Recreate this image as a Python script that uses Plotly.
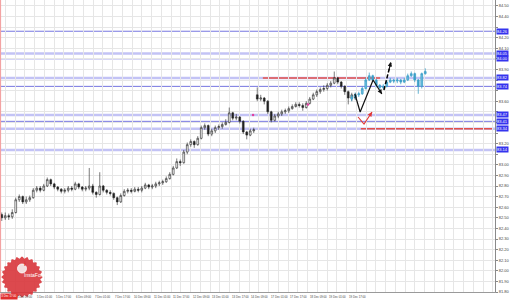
import math
import plotly.graph_objects as go

# ---------------- data ----------------
black_open = [82.53, 82.50, 82.52, 82.51, 82.55, 82.67, 82.70, 82.65, 82.67, 82.69,
              82.76, 82.78, 82.76, 82.80, 82.86, 82.82, 82.79, 82.77, 82.75, 82.76,
              82.78, 82.77, 82.82, 82.79, 82.77, 82.78, 82.80, 82.74, 82.72, 82.80,
              82.76, 82.74, 82.73, 82.69, 82.65, 82.71, 82.75, 82.76, 82.75, 82.77,
              82.76, 82.78, 82.81, 82.79, 82.80, 82.82, 82.83, 82.84, 82.87, 82.91,
              82.97, 83.03, 83.02, 83.12, 83.19, 83.22, 83.19, 83.25, 83.35, 83.37,
              83.29, 83.32, 83.35, 83.36, 83.38, 83.40, 83.49, 83.44, 83.45, 83.41,
              83.31, 83.28, 83.32, 83.66, 83.62, 83.63, 83.60, 83.50, 83.42, 83.46,
              83.48, 83.50, 83.51, 83.53, 83.55, 83.57, 83.56, 83.54, 83.58, 83.62,
              83.66, 83.69, 83.71, 83.72, 83.75, 83.77, 83.82, 83.78, 83.74, 83.69,
              83.63, 83.66]
black_high = [82.55, 82.55, 82.54, 82.58, 82.69, 82.72, 82.71, 82.70, 82.71, 82.78,
              82.80, 82.80, 82.82, 82.88, 82.87, 82.83, 82.80, 82.78, 82.78, 82.80,
              82.80, 82.84, 82.83, 82.80, 82.80, 82.97, 82.82, 82.75, 82.93, 82.81,
              82.77, 82.76, 82.74, 82.70, 82.73, 82.77, 82.78, 82.78, 82.79, 82.79,
              82.80, 82.83, 82.82, 82.82, 82.84, 82.85, 82.86, 82.89, 82.93, 82.99,
              83.06, 83.05, 83.14, 83.21, 83.24, 83.23, 83.27, 83.37, 83.39, 83.38,
              83.34, 83.37, 83.38, 83.40, 83.43, 83.54, 83.50, 83.48, 83.46, 83.42,
              83.32, 83.34, 83.35, 83.73, 83.66, 83.64, 83.61, 83.51, 83.48, 83.50,
              83.52, 83.53, 83.55, 83.57, 83.59, 83.59, 83.58, 83.60, 83.64, 83.68,
              83.71, 83.73, 83.75, 83.77, 83.79, 83.88, 83.83, 83.79, 83.75, 83.70,
              83.68, 83.68]
black_low = [82.47, 82.48, 82.48, 82.49, 82.54, 82.65, 82.63, 82.63, 82.65, 82.68,
             82.74, 82.74, 82.75, 82.79, 82.80, 82.77, 82.75, 82.73, 82.73, 82.74,
             82.75, 82.76, 82.77, 82.75, 82.75, 82.76, 82.72, 82.69, 82.71, 82.74,
             82.72, 82.71, 82.67, 82.62, 82.64, 82.70, 82.73, 82.73, 82.74, 82.74,
             82.74, 82.77, 82.77, 82.77, 82.78, 82.80, 82.81, 82.83, 82.86, 82.90,
             82.96, 82.99, 83.01, 83.10, 83.17, 83.16, 83.18, 83.24, 83.33, 83.27,
             83.27, 83.30, 83.33, 83.34, 83.37, 83.39, 83.42, 83.42, 83.39, 83.29,
             83.24, 83.27, 83.30, 83.60, 83.60, 83.57, 83.48, 83.40, 83.41, 83.44,
             83.46, 83.48, 83.49, 83.52, 83.54, 83.54, 83.51, 83.53, 83.57, 83.61,
             83.64, 83.67, 83.69, 83.70, 83.73, 83.76, 83.76, 83.72, 83.66, 83.57,
             83.60, 83.61]
black_close = [82.50, 82.52, 82.51, 82.55, 82.67, 82.70, 82.65, 82.67, 82.69, 82.76,
               82.78, 82.76, 82.80, 82.86, 82.82, 82.79, 82.77, 82.75, 82.76, 82.78,
               82.77, 82.82, 82.79, 82.77, 82.78, 82.80, 82.74, 82.72, 82.80, 82.76,
               82.74, 82.73, 82.69, 82.65, 82.71, 82.75, 82.76, 82.75, 82.77, 82.76,
               82.78, 82.81, 82.79, 82.80, 82.82, 82.83, 82.84, 82.87, 82.91, 82.97,
               83.03, 83.02, 83.12, 83.19, 83.22, 83.19, 83.25, 83.35, 83.37, 83.29,
               83.32, 83.35, 83.36, 83.38, 83.40, 83.49, 83.44, 83.45, 83.41, 83.31,
               83.28, 83.32, 83.33, 83.62, 83.63, 83.60, 83.50, 83.42, 83.46, 83.48,
               83.50, 83.51, 83.53, 83.55, 83.57, 83.56, 83.54, 83.58, 83.62, 83.66,
               83.69, 83.71, 83.72, 83.75, 83.77, 83.82, 83.78, 83.74, 83.69, 83.63,
               83.66, 83.63]
black_index = list(range(len(black_close)))

cyan_open = [83.62, 83.64, 83.66, 83.67, 83.72, 83.80, 83.84, 83.80, 83.75, 83.73, 83.74,
             83.78, 83.80, 83.79, 83.80, 83.78, 83.80, 83.84, 83.86, 83.80, 83.74, 83.86]
cyan_high = [83.66, 83.68, 83.69, 83.74, 83.82, 83.87, 83.85, 83.81, 83.76, 83.76, 83.80,
             83.82, 83.81, 83.82, 83.81, 83.82, 83.86, 83.88, 83.87, 83.81, 83.87, 83.91]
cyan_low = [83.60, 83.62, 83.64, 83.66, 83.71, 83.79, 83.78, 83.73, 83.71, 83.71, 83.73,
            83.77, 83.77, 83.77, 83.76, 83.77, 83.79, 83.83, 83.78, 83.67, 83.72, 83.85]
cyan_close = [83.64, 83.66, 83.67, 83.72, 83.80, 83.84, 83.80, 83.75, 83.73, 83.74, 83.78,
              83.80, 83.79, 83.80, 83.78, 83.80, 83.84, 83.86, 83.80, 83.74, 83.86, 83.88]
cyan_index = list(range(100, 100 + len(cyan_close)))

blue_thin_levels = [84.26, 84.00, 83.74, 83.41]
blue_thick_levels = [84.05, 83.82, 83.47, 83.34, 83.14]
red_level_prices = [83.82, 83.34]
red_level_start = [74.6, 102.6]
red_level_end = [108.1, 140.1]

price_ticks = ["81.80", "81.90", "82.00", "82.10", "82.20", "82.30", "82.40", "82.50",
               "82.60", "82.70", "82.80", "82.90", "83.00", "83.10", "83.20", "83.30",
               "83.40", "83.50", "83.60", "83.70", "83.80", "83.90", "84.00", "84.10",
               "84.20", "84.30", "84.40", "84.50"]
time_labels = ["4 Dec 09:00", "5 Dec 01:00", "5 Dec 17:00", "6 Dec 09:00", "7 Dec 01:00",
               "7 Dec 17:00", "10 Dec 09:00", "11 Dec 01:00", "11 Dec 17:00", "12 Dec 09:00",
               "13 Dec 01:00", "13 Dec 17:00", "14 Dec 09:00", "17 Dec 01:00", "17 Dec 17:00",
               "18 Dec 09:00", "19 Dec 01:00", "19 Dec 17:00"]
first_time_label = "3 Dec 17:00"

# hand-drawn forecast arrows (bar index, price)
black_path_x = [100.9, 102.4, 106.1, 108.6]
black_path_y = [83.668, 83.498, 83.80, 83.668]
black_dash_x = [109.2, 111.2]
black_dash_y = [83.706, 83.970]
red_path_x = [101.8, 103.5, 105.8]
red_path_y = [83.451, 83.385, 83.498]
marker_x = [71.8, 87.5]
marker_y = [83.47, 83.57]

# ---------------- layout geometry ----------------
W, H = 518, 301
PLOT_W, PLOT_H = 495, 292
BAR_PX = 3.5
PX_PER_UNIT = 106.0
x_lo = -0.5
x_hi = (PLOT_W - BAR_PX / 2) / BAR_PX
y_lo = float(price_ticks[0])
y_hi = y_lo + PLOT_H / PX_PER_UNIT


def px_to_idx(px):
    return (px - BAR_PX / 2) / BAR_PX


def paper_x(px):
    return px / PLOT_W


def paper_y(py):
    return (PLOT_H - py) / PLOT_H


fig = go.Figure()

# levels
for lv in blue_thick_levels:
    fig.add_shape(type="line", xref="paper", x0=0, x1=1, yref="y", y0=lv, y1=lv,
                  line=dict(color="#c3c3f5", width=2.5), layer="below")
for lv in blue_thin_levels:
    fig.add_shape(type="line", xref="paper", x0=0, x1=1, yref="y", y0=lv, y1=lv,
                  line=dict(color="#7676e0", width=1), layer="below")
for p, a, b in zip(red_level_prices, red_level_start, red_level_end):
    fig.add_shape(type="line", xref="x", x0=a, x1=b, yref="y", y0=p, y1=p,
                  line=dict(color="#e4504a", width=1.5), layer="below")

# left red vertical line
fig.add_shape(type="line", xref="paper", x0=0.001, x1=0.001, yref="paper", y0=0, y1=1,
              line=dict(color="#f3a3a3", width=1.2))

fig.add_trace(go.Candlestick(
    x=black_index, open=black_open, high=black_high, low=black_low, close=black_close,
    increasing=dict(line=dict(color="#222222", width=0.6), fillcolor="#ffffff"),
    decreasing=dict(line=dict(color="#222222", width=0.6), fillcolor="#222222"),
    whiskerwidth=0, showlegend=False, hoverinfo="skip"))

fig.add_trace(go.Candlestick(
    x=cyan_index, open=cyan_open, high=cyan_high, low=cyan_low, close=cyan_close,
    increasing=dict(line=dict(color="#3c9fc8", width=0.8), fillcolor="#6cbfe0"),
    decreasing=dict(line=dict(color="#3c9fc8", width=0.8), fillcolor="#3c9fc8"),
    whiskerwidth=0, showlegend=False, hoverinfo="skip"))

fig.add_trace(go.Scatter(x=black_path_x, y=black_path_y, mode="lines",
                         line=dict(color="#111111", width=1.2), showlegend=False, hoverinfo="skip"))
fig.add_trace(go.Scatter(x=black_dash_x, y=black_dash_y, mode="lines",
                         line=dict(color="#000000", width=1.5, dash="4px,2px"),
                         showlegend=False, hoverinfo="skip"))
fig.add_trace(go.Scatter(x=red_path_x, y=red_path_y, mode="lines",
                         line=dict(color="#e03838", width=1.1), showlegend=False, hoverinfo="skip"))
fig.add_trace(go.Scatter(x=marker_x, y=marker_y, mode="markers",
                         marker=dict(color="#e040a0", size=2.5), showlegend=False, hoverinfo="skip"))

# arrowheads
for xs, ys, col in [(black_path_x, black_path_y, "#111111"),
                    (black_dash_x, black_dash_y, "#111111"),
                    (red_path_x, red_path_y, "#e03838")]:
    fig.add_annotation(x=xs[-1], y=ys[-1], ax=xs[-1] - 0.35 * (xs[-1] - xs[-2]),
                       ay=ys[-1] - 0.35 * (ys[-1] - ys[-2]), xref="x", yref="y",
                       axref="x", ayref="y", showarrow=True, arrowhead=2, arrowsize=0.8,
                       arrowwidth=1.1, arrowcolor=col, text="", standoff=0)

# blue level labels on the price axis
all_levels = blue_thin_levels + blue_thick_levels
for lv in all_levels:
    fig.add_annotation(x=1, xref="paper", xanchor="left", xshift=1, y=lv, yref="y",
                       text="%.2f" % lv, showarrow=False, bgcolor="#3434ee",
                       font=dict(color="white", size=4, family="Liberation Sans"), borderpad=0)

# tick labels hidden under the level boxes (as in the reference)
tick_vals = [float(t) for t in price_ticks]
tick_text = [t if min(abs(v - lv) for lv in all_levels) * PX_PER_UNIT > 4.5 else ""
             for t, v in zip(price_ticks, tick_vals)]

# time labels
for k, t in enumerate(time_labels):
    px = 15 + 19.5 * k
    fig.add_annotation(x=paper_x(px), xref="paper", xanchor="left", y=paper_y(296.5), yref="paper",
                       yanchor="middle", text=t, showarrow=False,
                       font=dict(color="#444444", size=2.8, family="Liberation Sans"))
fig.add_annotation(x=0, xref="paper", xanchor="left", y=paper_y(296.5), yref="paper",
                   yanchor="middle", text=first_time_label, showarrow=False, bgcolor="#e03030",
                   font=dict(color="white", size=2.8, family="Liberation Sans"), borderpad=0.3)

# InstaForex logo badge
cx, cy, r = 22, 277, 19.5
pts = []
for k in range(145):
    th = 2 * math.pi * k / 144
    rr = r + 1.1 * math.cos(24 * th)
    pts.append((paper_x(cx + rr * math.cos(th)), paper_y(cy + rr * math.sin(th))))
path = "M " + " L ".join("%.5f,%.5f" % p for p in pts) + " Z"
fig.add_shape(type="path", xref="paper", yref="paper", path=path,
              fillcolor="#d8353b", line=dict(color="#d8353b", width=0), opacity=0.9)
fig.add_shape(type="circle", xref="paper", yref="paper",
              x0=paper_x(cx - 4.5), x1=paper_x(cx + 4.5), y0=paper_y(cy - 13), y1=paper_y(cy - 4),
              fillcolor="#f2dede", line=dict(color="#ffffff", width=0.8))
fig.add_annotation(x=paper_x(cx), y=paper_y(cy - 8.5), xref="paper", yref="paper",
                   text="<b>i</b>", showarrow=False,
                   font=dict(color="#d8353b", size=6, family="DejaVu Sans"))
fig.add_annotation(x=paper_x(cx), y=paper_y(cy + 3), xref="paper", yref="paper",
                   text="InstaForex", showarrow=False,
                   font=dict(color="#ffffff", size=5, family="Liberation Sans"))

# grid positions along time axis
grid_x = []
k = -1
while True:
    px = 15 + 9.75 * k
    if px > PLOT_W:
        break
    grid_x.append(px_to_idx(px))
    k += 1

fig.update_layout(
    width=W, height=H,
    margin=dict(l=0, r=W - PLOT_W, t=0, b=H - PLOT_H),
    paper_bgcolor="white", plot_bgcolor="white",
    showlegend=False,
    xaxis=dict(range=[x_lo, x_hi], rangeslider=dict(visible=False),
               tickvals=grid_x, showticklabels=False, ticks="",
               showgrid=True, gridcolor="#e6e6e6", gridwidth=1, zeroline=False,
               showline=True, linecolor="#9a9a9a", linewidth=1, mirror=False),
    yaxis=dict(range=[y_lo, y_hi], side="right",
               tickvals=tick_vals, ticktext=tick_text,
               tickfont=dict(size=4, color="#444444", family="Liberation Sans"),
               ticks="outside", ticklen=2, tickcolor="#888888",
               showgrid=True, gridcolor="#e6e6e6", gridwidth=1, zeroline=False,
               showline=True, linecolor="#8a8a8a", linewidth=1),
)

fig.write_html("out.html")
